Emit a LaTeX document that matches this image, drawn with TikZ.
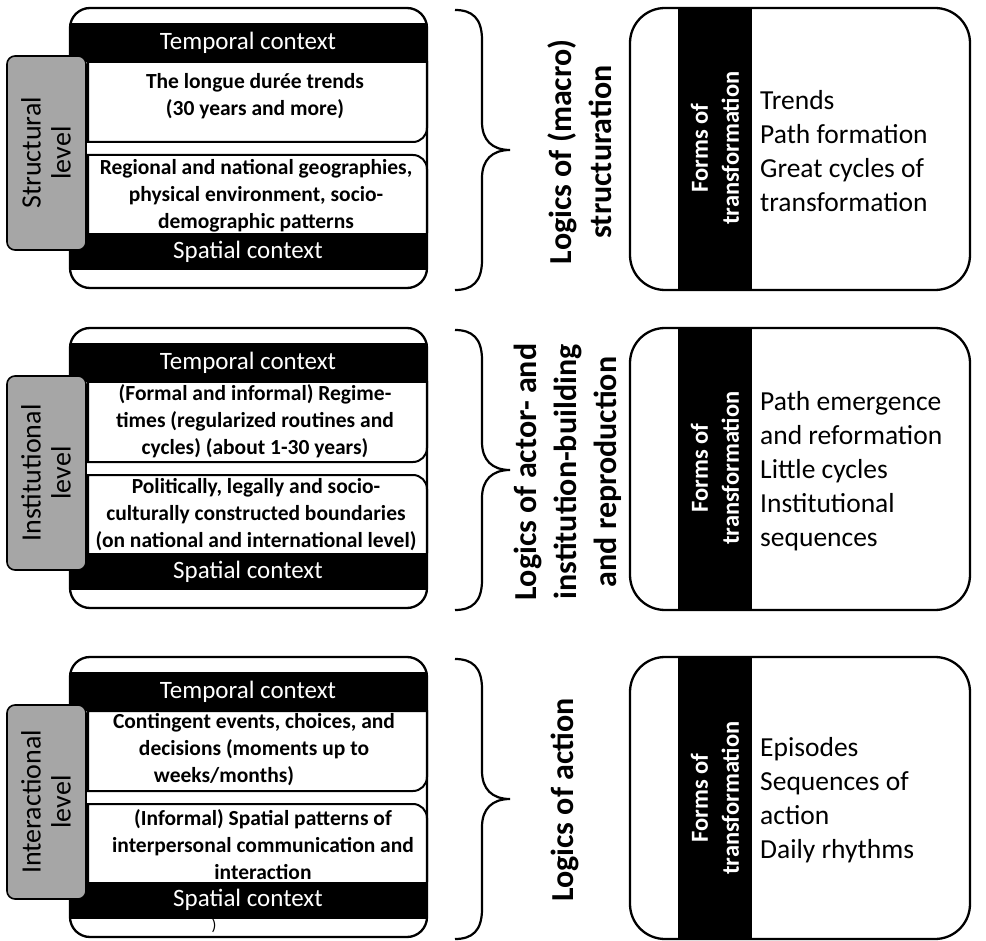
\documentclass[tikz,border=0pt]{standalone}
\usepackage{fontspec}
\setmainfont{Carlito}
\definecolor{tabgray}{RGB}{166,166,166}
\tikzset{
  frame/.style={draw=black, line width=2.3pt},
  innerline/.style={draw=black, line width=2pt},
  hdr/.style={text=white, font=\fontsize{25}{28}\selectfont, inner sep=0pt},
  body/.style={font=\bfseries\fontsize{21.5}{27}\selectfont, align=center, inner sep=0pt},
  tabbox/.style={draw=black, line width=1.6pt, fill=tabgray, rounded corners=8pt},
  tablabel/.style={rotate=90, font=\fontsize{28}{30}\selectfont, align=center, inner sep=0pt},
  logic/.style={rotate=90, font=\bfseries\fontsize{32}{40}\selectfont, align=center, inner sep=0pt},
  forms/.style={rotate=90, text=white, font=\bfseries\fontsize{24.5}{31}\selectfont, align=center, inner sep=0pt},
  items/.style={anchor=west, font=\fontsize{27.5}{34}\selectfont, align=left, inner sep=0pt},
  bracestyle/.style={draw=black, line width=2.2pt},
}
\newcommand\panelframe{%
  \fill[white, rounded corners=20pt] (70,8) rectangle (427,288);
  \begin{scope}
    \clip[rounded corners=20pt] (70,8) rectangle (427,288);
    \fill[black] (70,23) rectangle (427,62);
    \fill[black] (70,233) rectangle (427,270);
  \end{scope}
  \draw[frame, rounded corners=20pt] (70,8) rectangle (427,288);
  \draw[innerline] (88,62) -- (427,62) -- (427,128) arc[start angle=0, end angle=-90, radius=14pt] -- (88,142) -- cycle;
  \draw[innerline] (88,233) -- (88,155) -- (413,155) arc[start angle=90, end angle=0, radius=14pt] -- (427,233);
  \draw[tabbox] (7,56) rectangle (86,250);
  \draw[bracestyle] (455,10) .. controls (472,10) and (482,18) .. (482,40) -- (482,122)
     .. controls (482,140) and (492,150) .. (510,150)
     .. controls (492,150) and (482,160) .. (482,178) -- (482,260)
     .. controls (482,282) and (472,290) .. (455,290);
  \fill[white, rounded corners=35pt] (630,8) rectangle (970,290);
  \begin{scope}
    \clip[rounded corners=35pt] (630,8) rectangle (970,290);
    \fill[black] (678,8) rectangle (752,290);
  \end{scope}
  \draw[frame, rounded corners=35pt] (630,8) rectangle (970,290);
}
\begin{document}
\begin{tikzpicture}[x=1pt, y=-1pt]
\useasboundingbox (0,0) rectangle (986,941);
% ---------- Section 1 ----------
\begin{scope}[shift={(0,0)}]\panelframe\end{scope}
\node[hdr] (s1temp) at (248,43) {Temporal context};
\node[body] (s1t) at (255,96) {The longue durée trends\\(30 years and more)};
\node[body] (s1s) at (256,196) {Regional and national  geographies,\\physical environment, socio-\\demographic patterns};
\node[hdr] (s1spat) at (248,252) {Spatial context};
\node[tablabel] (s1lvl) at (46,153) {Structural\\level};
\node[logic] (s1logic) at (580,152) {Logics of (macro)\\structuration};
\node[forms] (s1forms) at (715,148) {Forms of\\transformation};
\node[items] (s1items) at (760,151) {Trends\\Path formation\\Great cycles of\\transformation};
% ---------- Section 2 ----------
\begin{scope}[shift={(0,320)}]\panelframe\end{scope}
\node[hdr] (s2temp) at (248,363) {Temporal context};
\node[body] (s2t) at (255,421) {(Formal and informal) Regime-\\times (regularized routines and\\cycles) (about 1-30 years)};
\node[body] (s2s) at (256,515) {Politically, legally and socio-\\culturally constructed boundaries\\(on national and international level)};
\node[hdr] (s2spat) at (248,572) {Spatial context};
\node[tablabel] (s2lvl) at (46,473) {Institutional\\level};
\node[logic] (s2logic) at (568,472) {Logics of actor- and\\institution-building\\and reproduction};
\node[forms] (s2forms) at (715,468) {Forms of\\transformation};
\node[items] (s2items) at (760,471) {Path emergence\\and reformation\\Little cycles\\Institutional\\sequences};
% ---------- Section 3 ----------
\begin{scope}[shift={(0,649)}]\panelframe\end{scope}
\node[hdr] (s3temp) at (248,692) {Temporal context};
\node[body] (s3t) at (254,750) {Contingent events, choices, and\\decisions (moments up to\\weeks/months)\makebox[60pt]{}};
\node[body] (s3s) at (263,845) {(Informal) Spatial patterns of\\interpersonal communication and\\interaction};
\node[hdr] (s3spat) at (248,900) {Spatial context};
\node[tablabel] (s3lvl) at (46,802) {Interactional\\level};
\node[logic] (s3logic) at (565,800) {Logics of action};
\node[forms] (s3forms) at (715,798) {Forms of\\transformation};
\node[items] (s3items) at (760,800) {Episodes\\Sequences of\\action\\Daily rhythms};
\node[font=\fontsize{16}{18}\selectfont, inner sep=0pt] (stray) at (214,926) {)};
\end{tikzpicture}
\end{document}
